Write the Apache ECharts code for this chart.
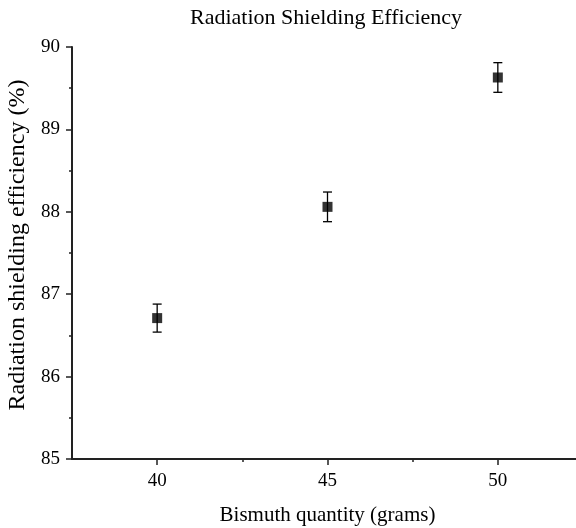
<!DOCTYPE html>
<html>
<head>
<meta charset="utf-8">
<script src="https://cdn.jsdelivr.net/npm/echarts@6/dist/echarts.min.js"></script>
<style>
  html, body { margin: 0; padding: 0; background: #fff; }
  #chart { width: 576px; height: 528px; }
</style>
</head>
<body>
<div id="chart"></div>
<script>
// bismuth quantity (grams) vs shielding efficiency (%)
const bismuth = [40, 45, 50];
const efficiency = [86.71, 88.06, 89.63];
const errors = [0.17, 0.18, 0.18];
const xMajorTicks = [40, 45, 50];
const xMinorTicks = [42.5, 47.5];

const font = 'Liberation Serif, Times New Roman, serif';
const axisColor = '#222';

const chart = echarts.init(document.getElementById('chart'), null, { renderer: 'canvas' });

const points = bismuth.map((x, i) => [x, efficiency[i], errors[i]]);

const option = {
    animation: false,
    backgroundColor: '#fff',
    title: {
        text: 'Radiation Shielding Efficiency',
        left: 190,
        top: 7,
        padding: 0,
        textStyle: { fontFamily: font, fontWeight: 'normal', fontSize: 22, color: '#000' },
    },
    grid: { left: 72, right: -7, top: 47, bottom: 69, outerBoundsMode: 'none', containLabel: false },
    xAxis: [
        {
            type: 'value',
            min: 37.5,
            max: 52.5,
            name: 'Bismuth quantity (grams)',
            nameLocation: 'middle',
            nameGap: 46,
            nameTextStyle: { fontFamily: font, fontSize: 21, color: '#000' },
            axisLine: { show: true, lineStyle: { color: axisColor, width: 2 } },
            axisTick: { show: true, customValues: xMajorTicks, length: 6, lineStyle: { color: axisColor, width: 1.5 } },
            axisLabel: { customValues: xMajorTicks, fontFamily: font, fontSize: 19, color: '#000', margin: 13 },
            splitLine: { show: false },
        },
        {
            type: 'value',
            min: 37.5,
            max: 52.5,
            position: 'bottom',
            axisLine: { show: false },
            axisTick: { show: true, customValues: xMinorTicks, length: 3, lineStyle: { color: axisColor, width: 1.5 } },
            axisLabel: { show: false },
            splitLine: { show: false },
        },
    ],
    yAxis: {
        type: 'value',
        min: 85,
        max: 90,
        interval: 1,
        name: 'Radiation shielding efficiency (%)',
        nameLocation: 'middle',
        nameGap: 36,
        nameTextStyle: { fontFamily: font, fontSize: 24, color: '#000', padding: [0, 0, 0, 16] },
        axisLine: { show: true, lineStyle: { color: axisColor, width: 2 } },
        axisTick: { show: true, length: 6, lineStyle: { color: axisColor, width: 1.5 } },
        minorTick: { show: true, splitNumber: 2, length: 3, lineStyle: { color: axisColor, width: 1.5 } },
        axisLabel: { fontFamily: font, fontSize: 19, color: '#000', margin: 12 },
        splitLine: { show: false },
    },
    series: [
        {
            type: 'custom',
            name: 'error',
            data: points,
            z: 1,
            renderItem: function (params, api) {
                const x = api.value(0);
                const y = api.value(1);
                const e = api.value(2);
                const top = api.coord([x, y + e]);
                const bot = api.coord([x, y - e]);
                const half = 4.5;
                const style = { stroke: '#000', lineWidth: 1.3 };
                return {
                    type: 'group',
                    children: [
                        { type: 'line', shape: { x1: top[0], y1: top[1], x2: bot[0], y2: bot[1] }, style: style },
                        { type: 'line', shape: { x1: top[0] - half, y1: top[1], x2: top[0] + half, y2: top[1] }, style: style },
                        { type: 'line', shape: { x1: bot[0] - half, y1: bot[1], x2: bot[0] + half, y2: bot[1] }, style: style },
                    ],
                };
            },
        },
        {
            type: 'scatter',
            name: 'efficiency',
            data: points,
            symbol: 'rect',
            symbolSize: 10,
            itemStyle: { color: '#000' },
            z: 2,
        },
    ],
};

chart.setOption(option);
</script>
</body>
</html>
